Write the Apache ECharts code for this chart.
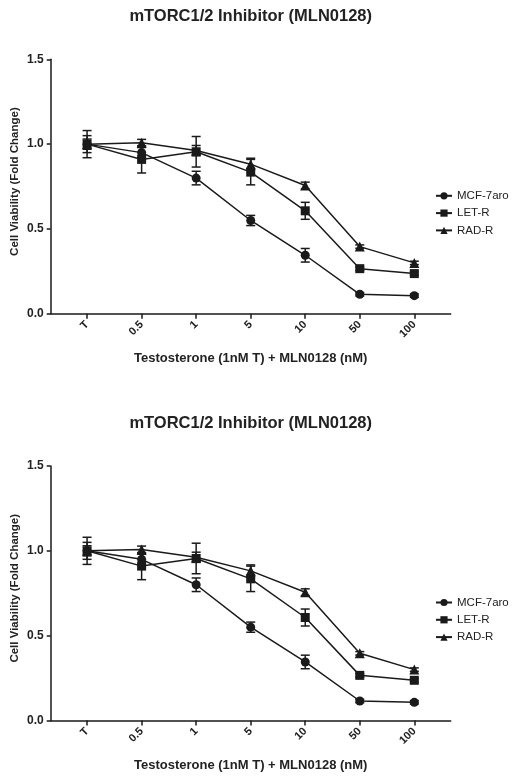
<!DOCTYPE html>
<html><head><meta charset="utf-8">
<script src="https://cdn.jsdelivr.net/npm/echarts@6/dist/echarts.min.js"></script>
<style>html,body{margin:0;padding:0;background:#fff}#c{width:523px;height:780px}</style>
</head><body><div id="c"></div>
<script>
const titleText = 'mTORC1/2 Inhibitor (MLN0128)';
const yName = 'Cell Viability (Fold Change)';
const xName = 'Testosterone (1nM T) + MLN0128 (nM)';
const categories = ['T', '0.5', '1', '5', '10', '50', '100'];
const yTicks = [0, 0.5, 1.0, 1.5];
const seriesNames = ['MCF-7aro', 'LET-R', 'RAD-R'];
const symbols = ['circle', 'rect', 'triangle'];
const mcf7aro = [1.00, 0.95, 0.80, 0.55, 0.345, 0.115, 0.107];
const mcf7aroErr = [0.05, 0.03, 0.04, 0.03, 0.04, 0.01, 0.01];
const letR = [1.00, 0.91, 0.955, 0.835, 0.607, 0.266, 0.237];
const letRErr = [0.08, 0.08, 0.09, 0.075, 0.05, 0.01, 0.01];
const radR = [1.00, 1.008, 0.962, 0.882, 0.756, 0.396, 0.300];
const radRErr = [0.03, 0.02, 0.03, 0.035, 0.02, 0.01, 0.01];
const values = [mcf7aro, letR, radR];
const errors = [mcf7aroErr, letRErr, radRErr];

const chart = echarts.init(document.getElementById('c'));
const FONT = 'Liberation Sans, Arial, sans-serif';
const INK = '#1a1a1a';
const panelTops = [59.3, 466];
const idx = categories.map((c, i) => i);

const grids = [], xAxes = [], yAxes = [], titles = [], legends = [], series = [];
panelTops.forEach((top, p) => {
  grids.push({left: 50.7, top: top, width: 400, height: 254.5, outerBoundsMode: 'none', containLabel: false});
  titles.push({text: titleText, left: 250.7, textAlign: 'center', top: top - 51.5, padding: 0,
    textStyle: {fontFamily: FONT, fontSize: 16.5, fontWeight: 'bold', color: '#222'}});
  xAxes.push({type: 'value', gridIndex: p, min: -0.667, max: 6.667,
    name: xName, nameLocation: 'middle', nameGap: 38, nameMoveOverlap: false,
    nameTextStyle: {fontFamily: FONT, fontSize: 13, fontWeight: 'bold', color: '#222'},
    axisLine: {onZero: false, lineStyle: {color: INK, width: 1.5}},
    axisTick: {customValues: idx, length: 5, lineStyle: {color: INK, width: 1.5}},
    axisLabel: {customValues: idx, rotate: 45, margin: 9, fontFamily: FONT, fontSize: 11,
      fontWeight: 'bold', color: '#222', formatter: v => categories[Math.round(v)]},
    splitLine: {show: false}});
  yAxes.push({type: 'value', gridIndex: p, min: 0, max: 1.5, interval: 0.5,
    name: yName, nameLocation: 'middle', nameGap: 30, nameRotate: 90, nameMoveOverlap: false,
    nameTextStyle: {fontFamily: FONT, fontSize: 11.5, fontWeight: 'bold', color: '#222', padding: [0, 0, 0, 10]},
    axisLine: {show: true, onZero: false, lineStyle: {color: INK, width: 1.5}},
    axisTick: {show: true, length: 4, lineStyle: {color: INK, width: 1.5}},
    axisLabel: {margin: 7, fontFamily: FONT, fontSize: 12, fontWeight: 'bold', color: '#222',
      formatter: v => v.toFixed(1)},
    splitLine: {show: false}});
  legends.push({data: seriesNames, orient: 'vertical', padding: 0,
    left: 435, top: top + 129.5, itemWidth: 16, itemHeight: 9, itemGap: 3.3,
    textStyle: {fontFamily: FONT, fontSize: 11.5, color: '#222', lineHeight: 14},
    selectedMode: false});
  seriesNames.forEach((name, s) => {
    series.push({type: 'custom', name: name + ' err', xAxisIndex: p, yAxisIndex: p, z: 1,
      data: idx.map(i => [i, values[s][i] - errors[s][i], values[s][i] + errors[s][i]]),
      renderItem: (params, api) => {
        const lo = api.coord([api.value(0), api.value(1)]);
        const hi = api.coord([api.value(0), api.value(2)]);
        const w = 4.5;
        const st = {stroke: INK, lineWidth: 1.5};
        return {type: 'group', children: [
          {type: 'line', shape: {x1: lo[0], y1: lo[1], x2: hi[0], y2: hi[1]}, style: st},
          {type: 'line', shape: {x1: lo[0] - w, y1: lo[1], x2: lo[0] + w, y2: lo[1]}, style: st},
          {type: 'line', shape: {x1: hi[0] - w, y1: hi[1], x2: hi[0] + w, y2: hi[1]}, style: st}
        ]};
      }});
    series.push({type: 'line', name: name, xAxisIndex: p, yAxisIndex: p, z: 3,
      data: idx.map(i => [i, values[s][i]]),
      symbol: symbols[s], symbolSize: s === 2 ? 10 : 9,
      itemStyle: {color: INK}, lineStyle: {color: INK, width: 1.5}, animation: false});
  });
});

chart.setOption({backgroundColor: '#fff', animation: false, title: titles, grid: grids,
  xAxis: xAxes, yAxis: yAxes, legend: legends, series: series});
</script></body></html>
